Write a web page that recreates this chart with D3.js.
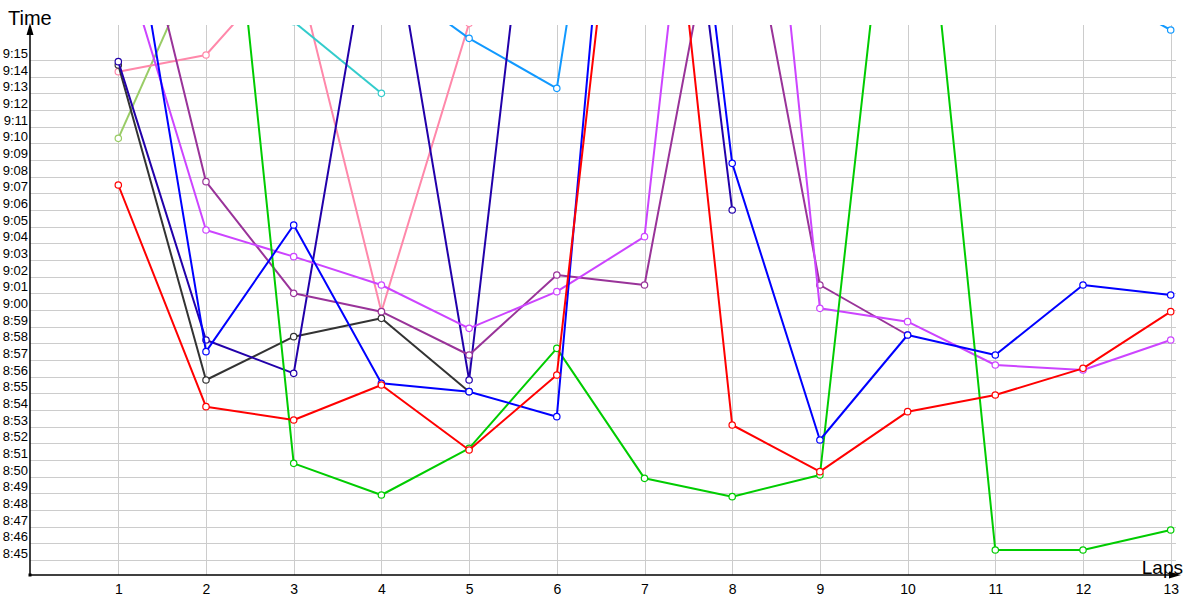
<!DOCTYPE html>
<html>
<head>
<meta charset="utf-8">
<script src="https://cdnjs.cloudflare.com/ajax/libs/d3/7.8.5/d3.min.js"></script>
<style>
  body { margin: 0; background: #fff; }
  svg { display: block; }
  .grid line { stroke: #cccccc; stroke-width: 1; shape-rendering: crispEdges; }
  .yaxis text { font-family: "Liberation Sans", Arial, sans-serif; font-size: 13px; fill: #000; }
  .xaxis text { font-family: "Liberation Sans", Arial, sans-serif; font-size: 14px; fill: #000; }
  .title { font-family: "Liberation Sans", Arial, sans-serif; fill: #000; }
</style>
</head>
<body>
<svg width="1200" height="600"></svg>
<script>
// lap numbers on the x axis
var laps = [1, 2, 3, 4, 5, 6, 7, 8, 9, 10, 11, 12, 13];

// y tick labels (lap time m:ss)
var timeLabels = ["8:45", "8:46", "8:47", "8:48", "8:49", "8:50", "8:51", "8:52", "8:53", "8:54",
                  "8:55", "8:56", "8:57", "8:58", "8:59", "9:00", "9:01", "9:02", "9:03", "9:04",
                  "9:05", "9:06", "9:07", "9:08", "9:09", "9:10", "9:11", "9:12", "9:13", "9:14", "9:15"];

// lap times in seconds, one array per runner (null = not shown / unknown)
var red        = [547.5, 534.2, 533.4, 535.5, 531.6, 536.1, 582.0, 533.1, 530.3, 533.9, 534.9, 536.5, 539.9];
var green      = [null, 581.5, 530.8, 528.9, 531.7, 537.7, 529.9, 528.8, 530.1, 577.0, 525.6, 525.6, 526.8];
var blue       = [569.1, 537.5, 545.1, 535.6, 535.1, 533.6, 592.2, 548.8, 532.2, 538.5, 537.3, 541.5, 540.9];
var navy       = [554.9, 538.2, 536.2, 567.0, 535.8, 580.9, 588.3, 546.0];
var black      = [554.7, 535.8, 538.4, 539.5, 535.1];
var purple     = [569.2, 547.7, 541.0, 539.9, 537.3, 542.1, 541.5, 569.4, 541.5, 538.5];
var magenta    = [562.1, 544.8, 543.2, 541.5, 538.9, 541.1, 544.4, 591.0, 540.1, 539.3, 536.7, 536.4, 538.2];
var pink       = [554.3, 555.3, 561.2, 539.9, 557.2];
var lightGreen = [550.3, 562.1];
var cyan       = [null, null, 557.3, 553.0];
var skyBlue    = [null, null, null, 560.1, 556.3, 553.3, 587.0, null, null, null, null, 559.7, 556.8];

var series = [
  { color: "#99cc66", values: lightGreen },
  { color: "#ff88aa", values: pink },
  { color: "#33cccc", values: cyan },
  { color: "#1199ff", values: skyBlue },
  { color: "#333333", values: black },
  { color: "#2200aa", values: navy },
  { color: "#993399", values: purple },
  { color: "#cc44ff", values: magenta },
  { color: "#00cc00", values: green },
  { color: "#0000ff", values: blue },
  { color: "#ff0000", values: red }
];

function toSeconds(label) {
  var p = label.split(":");
  return (+p[0]) * 60 + (+p[1]);
}

var svg = d3.select("svg");
var plotLeft = 30, plotTop = 25, plotBottom = 575, plotRight = 1176;

var x = d3.scaleLinear().domain([0, 13]).range([30.6, 1170.7]);
var y = d3.scaleLinear().domain([525, 555]).range([560, 60]);

// grid
var grid = svg.append("g").attr("class", "grid");
grid.selectAll("line.h")
    .data(timeLabels)
    .enter().append("line")
    .attr("class", "h")
    .attr("x1", plotLeft).attr("x2", plotRight)
    .attr("y1", function(d) { return Math.round(y(toSeconds(d))) + 0.5; })
    .attr("y2", function(d) { return Math.round(y(toSeconds(d))) + 0.5; });
grid.selectAll("line.v")
    .data(laps)
    .enter().append("line")
    .attr("class", "v")
    .attr("y1", plotTop).attr("y2", plotBottom)
    .attr("x1", function(d) { return Math.round(x(d)) + 0.5; })
    .attr("x2", function(d) { return Math.round(x(d)) + 0.5; });

// axes labels
var yAxis = d3.axisLeft(y)
    .tickValues(timeLabels.map(toSeconds))
    .tickFormat(function(d, i) { return timeLabels[i]; })
    .tickSize(0)
    .tickPadding(2);
var gy = svg.append("g").attr("class", "yaxis").attr("transform", "translate(" + plotLeft + ",0)").call(yAxis);
gy.select(".domain").remove();
gy.selectAll("text").attr("dy", -2.5);

var xAxis = d3.axisBottom(x).tickValues(laps).tickSize(0).tickPadding(9);
var gx = svg.append("g").attr("class", "xaxis").attr("transform", "translate(0," + plotBottom + ")").call(xAxis);
gx.select(".domain").remove();

// series
svg.append("clipPath").attr("id", "plot")
   .append("rect").attr("x", plotLeft).attr("y", plotTop)
   .attr("width", 1180 - plotLeft).attr("height", plotBottom - plotTop);

var line = d3.line()
    .defined(function(d) { return d != null; })
    .x(function(d, i) { return x(laps[i]); })
    .y(function(d) { return y(d); });

var plot = svg.append("g").attr("clip-path", "url(#plot)");

series.forEach(function(s) {
  var g = plot.append("g");
  g.append("path")
   .datum(s.values)
   .attr("fill", "none")
   .attr("stroke", s.color)
   .attr("stroke-width", 2)
   .attr("stroke-linejoin", "round")
   .attr("d", line);

  var pts = s.values.map(function(v, i) { return { lap: laps[i], v: v }; })
                    .filter(function(p) { return p.v != null; });
  g.selectAll("circle")
   .data(pts)
   .enter().append("circle")
   .attr("cx", function(p) { return x(p.lap); })
   .attr("cy", function(p) { return y(p.v); })
   .attr("r", 3.2)
   .attr("fill", "#fff")
   .attr("stroke", s.color)
   .attr("stroke-width", 1.2);
});

// axis lines with arrows
svg.append("line").attr("x1", plotLeft).attr("x2", plotLeft).attr("y1", plotBottom).attr("y2", 32)
   .attr("stroke", "#000").attr("stroke-width", 1.5);
svg.append("path").attr("d", "M" + plotLeft + ",23 L" + (plotLeft - 3.5) + ",35 L" + (plotLeft + 3.5) + ",35 Z").attr("fill", "#000");
svg.append("line").attr("x1", plotLeft).attr("x2", 1172).attr("y1", plotBottom).attr("y2", plotBottom)
   .attr("stroke", "#000").attr("stroke-width", 1.5);
svg.append("path").attr("d", "M1181," + plotBottom + " L1169," + (plotBottom - 3.5) + " L1169," + (plotBottom + 3.5) + " Z").attr("fill", "#000");
svg.append("rect").attr("x", plotLeft - 1.5).attr("y", plotBottom - 1.5).attr("width", 3).attr("height", 3).attr("fill", "#000");

svg.append("text").attr("class", "title").attr("x", 8).attr("y", 25).attr("font-size", 20).text("Time");
svg.append("text").attr("class", "title").attr("x", 1183).attr("y", 574).attr("text-anchor", "end").attr("font-size", 19).text("Laps");
</script>
</body>
</html>
